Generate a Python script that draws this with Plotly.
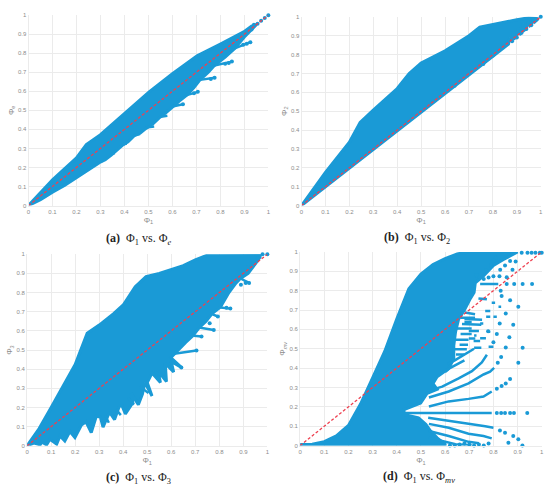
import plotly.graph_objects as go
from plotly.subplots import make_subplots

BLUE = '#1a9ad6'
RED = '#ee4050'
GRID = '#ebebeb'
TICK = '#8c8c8c'
CAPTION = '#222222'
TICK_VALUES = [0, 0.1, 0.2, 0.3, 0.4, 0.5, 0.6, 0.7, 0.8, 0.9, 1]
DIAG = [0, 1]

# (a) phi1 vs phi_e
a_area_x = [0, .05, .1, .2, .241, .3, .4, .503, .6, .703, .8, .897, .93, .95, .9, .86, .82, .775, .75, .715, .69, .66, .63, .6, .575, .545, .52, .49, .465, .44, .415, .39, .365, .345, .32, .295, .26, .2, .15, .1, .05, 0]
a_area_y = [0, .07, .135, .25, .32, .372, .484, .597, .692, .787, .848, .912, .943, .95, .885, .825, .78, .735, .70, .66, .62, .58, .55, .515, .49, .46, .43, .405, .38, .365, .335, .315, .285, .265, .24, .225, .195, .145, .105, .07, .03, 0]
a_ray_x = [.86, .925, None, .775, .848, None, .715, .776, None, .66, .706, None, .6, .644, None, .545, .579, None, .49, .524, None, .44, .465, None, .39, .41, None, .345, .36, None, .295, .31]
a_ray_y = [.825, .858, None, .735, .756, None, .66, .671, None, .58, .597, None, .52, .532, None, .465, .471, None, .41, .415, None, .37, .375, None, .32, .325, None, .27, .275, None, .23, .235]
a_dot_x = [.925, .91, .895, .848, .835, .82, .776, .76, .706, .69, .644, .94, .955, .97, .985, 1, .93]
a_dot_y = [.858, .85, .845, .756, .748, .745, .671, .665, .597, .59, .532, .95, .955, .97, .985, 1, .925]

# (b) phi1 vs phi_2
b_area_x = [0, .05, .1, .2, .245, .3, .36, .4, .45, .5, .6, .7, .745, .8, .85, .9, .95, .99, .975, .969, .962, .955, .948, .94, .932, .927, .92, .912, .906, .898, .89, .885, .878, .871, .865, .86, .7, .5, .25, 0]
b_area_y = [0, .09, .175, .335, .44, .505, .575, .62, .7, .755, .82, .9, .945, .96, .975, .985, .995, .99, .973, .985, .96, .953, .975, .938, .93, .965, .915, .905, .945, .892, .885, .92, .87, .89, .855, .85, .695, .495, .245, 0]
b_dot_x = [.88, .9, .92, .94, .96, .98, 1, .8, .76, .64]
b_dot_y = [.87, .89, .915, .935, .955, .985, 1, .795, .75, .635]

# (c) phi1 vs phi_3
c_area_x = [0, .05, .1, .2, .25, .3, .36, .4, .45, .495, .55, .6, .65, .7, .75, .97, .97, .95, .92, .885, .87, .84, .805, .77, .745, .715, .69, .66, .63, .61, .598, .642, .6, .61, .575, .58, .545, .555, .52, .5, .52, .49, .48, .463, .433, .44, .409, .395, .384, .364, .343, .316, .305, .288, .267, .245, .226, .199, .178, .157, .137, .123, .095, .081, .061, .054, .03, 0]
c_area_y = [0, .09, .2, .424, .587, .63, .69, .735, .83, .883, .9, .92, .94, .97, .995, 1, .985, .95, .9, .87, .85, .8, .725, .69, .65, .615, .575, .54, .5, .475, .46, .409, .44, .385, .43, .335, .39, .33, .38, .33, .26, .33, .27, .215, .275, .225, .166, .21, .206, .137, .176, .098, .15, .154, .069, .125, .108, .043, .074, .025, .052, .009, .034, .005, .02, .005, .015, 0]
c_ray_x = [.876, .924, None, .805, .846, None, .77, .794, None, .715, .777, None, .694, .726, None, .612, .705, None, .53, .565, None, .47, .505, None, .42, .445, None, .37, .39, None, .325, .34]
c_ray_y = [.881, .85, None, .722, .716, None, .687, .675, None, .618, .604, None, .575, .57, None, .481, .498, None, .39, .365, None, .31, .275, None, .25, .215, None, .19, .16, None, .16, .12]
c_dot_x = [.924, .91, .89, .846, .83, .794, .777, .76, .726, .705, .642, .98, 1, .96, .94, .92, .9]
c_dot_y = [.85, .85, .84, .716, .72, .675, .604, .64, .57, .498, .409, 1, 1, .98, .955, .93, .905]

# (d) phi1 vs phi_mv
d_area_x = [0, .05, .1, .15, .2, .25, .3, .35, .4, .45, .5, .55, .6, .65, .7, .75, .9, .84, .8, .76, .725, .72, .705, .68, .656, .643, .636, .636, .615, .567, .55, .567, .526, .499, .43, .43, .49, .52, .54, .567, .6, .6, 0]
d_area_y = [.005, .007, .02, .05, .104, .214, .35, .486, .653, .81, .886, .935, .965, .99, 1, 1, 1, .96, .93, .877, .84, .79, .76, .7, .653, .585, .517, .449, .398, .355, .32, .29, .27, .22, .185, .16, .143, .11, .075, .04, .007, 0, 0]
d_ray_x = [.43, .793, None, .533, .615, .697, .759, .793, None, .533, .615, .697, .759, .786, .803, None,
           .55, .588, .656, .711, .752, .773, None, .53, .615, .697, .766, .8, None, .533, .615, .697, .759, .793, None,
           .533, .615, .697, .74, None, .533, .643, .71, None, .745, .82, None, .738, .773, None, .793, .807, None,
           .766, .787, None, .682, .724, None, .77, .787, None, .68, .753, None, .67, .75, None, .698, .74, None, .745, .769,
           None, .698, .725, None, .718, .745, None, .78, .8, None, .72, .75, None, .6, .62, .68, None, .61, .64, .72, None,
           .663, .724, None, .68, .71, None, .648, .71, None, .664, .71, None, .642, .697, None, .66, .695, None, .636, .69, None, .645, .68, None, .745, .758, None, .72, .73, None,
           .821, .832, None, .8, .814, None, .773, .787]
d_ray_y = [.168, .168, None, .202, .228, .241, .253, .279, None, .248, .279, .321, .367, .381, .401, None,
           .29, .304, .347, .384, .429, .469, None, .143, .129, .112, .1, .092, None, .112, .092, .061, .049, .037, None,
           .075, .049, .019, .012, None, .041, .007, 0, None, .835, .835, None, .76, .755, None, .738, .738, None,
           .695, .695, None, .687, .678, None, .665, .665, None, .653, .65, None, .628, .624, None, .592, .592, None, .554, .554,
           None, .553, .553, None, .54, .54, None, .51, .51, None, .505, .505, None, .38, .4, .44, None, .42, .44, .5, None,
           .66, .66, None, .638, .638, None, .605, .605, None, .576, .576, None, .547, .547, None, .52, .52, None, .497, .497, None, .47, .47, None, .63, .63, None, .568, .568, None,
           .717, .717, None, .665, .665, None, .588, .588]
d_dot_x = [.814, .832, .848, .869, .885, .94, .814, .834, .851, .869, .818, .903, .832, .827, .848, .882, .903, .862, .92, .855, .886, .921, .96,
           .917, .941, .958, .974, .992, 1, .834, .869, .903, .851, .882, .866, .921, .851, .869, .892, .848, .879, .828, .8, .825, .855, .83, .78, .76, .77, .8, .73, .79, .81, .826, .778,
           .62, .64, .66, .68, .7, .72, .74, .76, .78, .814, .8]
d_dot_y = [.168, .168, .168, .168, .168, .168, .293, .308, .321, .344, .427, .427, .457, .078, .066, .049, .032, .015, 0, .835, .835, .835, .835,
           .996, .996, .996, .996, .996, .996, .772, .751, .717, .682, .624, .559, .505, .507, .953, .95, .93, .908, .908, .874, .874, .869, .8, .868, .86, .905, .955, .88, .93, .97, .63, .59,
           0, 0, .005, .01, .005, 0, .005, 0, .01, .576, .534]

PANELS = [
    dict(area=(a_area_x, a_area_y), ray=(a_ray_x, a_ray_y), dot=(a_dot_x, a_dot_y), ylabel='Φ<sub>e</sub>', caption='<b>(a)</b>  Φ<sub>1</sub> vs. Φ<sub><i>e</i></sub>',
         box=(26.7, 268.3, 12.3, 205), cap=(138, 239)),
    dict(area=(b_area_x, b_area_y), ray=([], []), dot=(b_dot_x, b_dot_y), ylabel='Φ<sub>2</sub>', caption='<b>(b)</b>  Φ<sub>1</sub> vs. Φ<sub>2</sub>',
         box=(301.7, 542.7, 14, 205), cap=(418, 238)),
    dict(area=(c_area_x, c_area_y), ray=(c_ray_x, c_ray_y), dot=(c_dot_x, c_dot_y), ylabel='Φ<sub>3</sub>', caption='<b>(c)</b>  Φ<sub>1</sub> vs. Φ<sub>3</sub>',
         box=(25.3, 267.3, 254.3, 448.3), cap=(137, 481)),
    dict(area=(d_area_x, d_area_y), ray=(d_ray_x, d_ray_y), dot=(d_dot_x, d_dot_y), ylabel='Φ<sub><i>mv</i></sub>', caption='<b>(d)</b>  Φ<sub>1</sub> vs. Φ<sub><i>mv</i></sub>',
         box=(300.3, 543.7, 252, 448), cap=(420, 480)),
]

W, H = 550, 492
fig = make_subplots(rows=2, cols=2)

for i, p in enumerate(PANELS):
    row, col = i // 2 + 1, i % 2 + 1
    fig.add_trace(go.Scatter(x=p['area'][0], y=p['area'][1], mode='lines', fill='toself', fillcolor=BLUE,
                             line=dict(color=BLUE, width=3), cliponaxis=False), row=row, col=col)
    fig.add_trace(go.Scatter(x=p['ray'][0], y=p['ray'][1], mode='lines', line=dict(color=BLUE, width=2.5),
                             cliponaxis=False), row=row, col=col)
    fig.add_trace(go.Scatter(x=p['dot'][0], y=p['dot'][1], mode='markers', marker=dict(color=BLUE, size=4),
                             cliponaxis=False), row=row, col=col)
    fig.add_trace(go.Scatter(x=DIAG, y=DIAG, mode='lines', line=dict(color=RED, width=1.3, dash='3px,2px'),
                             cliponaxis=False), row=row, col=col)

    x0, x1, y1, y0 = p['box']
    fig.update_xaxes(domain=[x0 / W, x1 / W], range=[0, 1], tickvals=TICK_VALUES, gridcolor=GRID, gridwidth=1,
                     showline=True, linecolor=GRID, zeroline=False, ticks='', tickfont=dict(size=6, color=TICK),
                     title=dict(text='Φ<sub>1</sub>', font=dict(size=8, color=TICK), standoff=3), row=row, col=col)
    fig.update_yaxes(domain=[1 - y0 / H, 1 - y1 / H], range=[0, 1], tickvals=TICK_VALUES, gridcolor=GRID, gridwidth=1,
                     showline=True, linecolor=GRID, zeroline=False, ticks='', tickfont=dict(size=6, color=TICK),
                     title=dict(text=p['ylabel'], font=dict(size=8, color=TICK), standoff=2), row=row, col=col)
    fig.add_annotation(text=p['caption'], xref='paper', yref='paper', x=p['cap'][0] / W, y=1 - p['cap'][1] / H,
                       showarrow=False, xanchor='center', yanchor='middle',
                       font=dict(family='Liberation Serif', size=12, color=CAPTION))

fig.update_layout(width=W, height=H, margin=dict(l=0, r=0, t=0, b=0), paper_bgcolor='white', plot_bgcolor='white',
                  showlegend=False, font=dict(family='Liberation Sans'))
fig.write_html("out.html", config={'displayModeBar': False}, post_script="document.body.style.margin='0';")
